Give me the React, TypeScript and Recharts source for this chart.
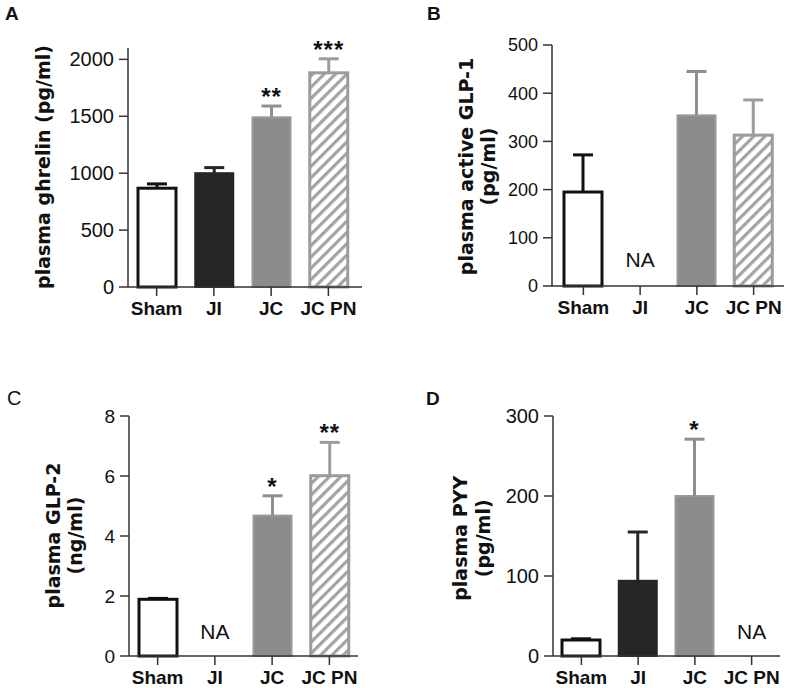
import React from "react";
import { BarChart, Bar, XAxis, YAxis, ReferenceDot } from "recharts";

// groups on the x axis
const groups = ["Sham", "JI", "JC", "JC PN"];

// A: plasma ghrelin (pg/ml)
const ghrelinMean = [868, 1000, 1491, 1882];
const ghrelinSem = [38, 49, 99, 123];
const ghrelinSig = ["", "", "**", "***"];

// B: plasma active GLP-1 (pg/ml), JI not available
const glp1Mean = [195, null, 354, 313];
const glp1Sem = [77, null, 91, 73];
const glp1Sig = ["", "", "", ""];

// C: plasma GLP-2 (ng/ml), JI not available
const glp2Mean = [1.89, null, 4.68, 6.01];
const glp2Sem = [0.03, null, 0.66, 1.11];
const glp2Sig = ["", "", "*", "**"];

// D: plasma PYY (pg/ml), JC PN not available
const pyyMean = [20, 94, 200, null];
const pyySem = [1.5, 61, 71, null];
const pyySig = ["", "", "*", ""];

const ghrelinTicks = [0, 500, 1000, 1500, 2000];
const glp1Ticks = [0, 100, 200, 300, 400, 500];
const glp2Ticks = [0, 2, 4, 6, 8];
const pyyTicks = [0, 100, 200, 300];

const SANS = "'Liberation Sans', Arial, Helvetica, sans-serif";
const LABEL_FONT = "'DejaVu Sans', Verdana, sans-serif";

type Style = { fill: string; stroke: string; sw: number; err: string; hatch?: boolean };
const barStyle: Record<string, Style> = {
  Sham: { fill: "#ffffff", stroke: "#111111", sw: 3, err: "#111111" },
  JI: { fill: "#262626", stroke: "#262626", sw: 2, err: "#262626" },
  JC: { fill: "#8c8c8c", stroke: "#9a9a9a", sw: 2, err: "#8f8f8f" },
  "JC PN": { fill: "#ffffff", stroke: "#9c9c9c", sw: 3, err: "#9c9c9c", hatch: true },
};

type PanelProps = {
  id: string;
  left: number;
  top: number;
  width: number;
  height: number;
  margin: { top: number; right: number; bottom: number; left: number };
  yWidth: number;
  xPadding: { left: number; right: number };
  domain: [number, number];
  ticks: number[];
  tickFont: number;
  mean: (number | null)[];
  sem: (number | null)[];
  sig: string[];
  labelLines: string[];
  labelOffsets: number[];
  labelCenter: number;
  naOffset?: number;
};

function Panel(p: PanelProps) {
  const data = groups.map((g, i) => ({ group: g, mean: p.mean[i], sem: p.sem[i], sig: p.sig[i] }));
  const hatchId = `hatch-${p.id}`;
  const axisX = p.margin.left + p.yWidth;

  const shape = (props: any) => {
    const { x, y, width: w, height: h, payload } = props;
    if (payload == null || payload.mean == null || !h) return <g />;
    const s = barStyle[payload.group];
    const k = h / payload.mean; // px per unit from the bar's own scale
    const yErr = y - (payload.sem ?? 0) * k;
    const cx = x + w / 2;
    return (
      <g>
        <rect x={x} y={y} width={w} height={h} fill={s.hatch ? `url(#${hatchId})` : s.fill} stroke={s.stroke} strokeWidth={s.sw} />
        <line x1={cx} x2={cx} y1={y} y2={yErr} stroke={s.err} strokeWidth={3} />
        <line x1={cx - 10} x2={cx + 10} y1={yErr} y2={yErr} stroke={s.err} strokeWidth={3} />
        {payload.sig ? (
          <text x={cx} y={yErr - 1} textAnchor="middle" fontFamily={SANS} fontWeight={700} fontSize={24} letterSpacing={1} fill="#111">
            {payload.sig}
          </text>
        ) : null}
      </g>
    );
  };

  const yLabel = () => (
    <g>
      {p.labelLines.map((t, i) => {
        const bx = axisX + p.labelOffsets[i];
        return (
          <text key={i} x={bx} y={p.labelCenter} transform={`rotate(-90, ${bx}, ${p.labelCenter})`} textAnchor="middle" fontFamily={LABEL_FONT} fontWeight={700} fontSize={19} fill="#111">
            {t}
          </text>
        );
      })}
    </g>
  );

  return (
    <div style={{ position: "absolute", left: p.left, top: p.top }}>
      <BarChart width={p.width} height={p.height} data={data} margin={p.margin} barSize={38}>
        <defs>
          <pattern id={hatchId} width="8" height="8" patternUnits="userSpaceOnUse" patternTransform="rotate(45)">
            <rect width="8" height="8" fill="#ffffff" />
            <rect x="0" y="0" width="3.2" height="8" fill="#a3a3a3" />
          </pattern>
        </defs>
        <XAxis
          dataKey="group"
          height={30}
          padding={p.xPadding}
          interval={0}
          tickSize={9}
          tickMargin={6}
          axisLine={{ stroke: "#333", strokeWidth: 1.5 }}
          tickLine={{ stroke: "#333", strokeWidth: 1.5 }}
          tick={{ fontSize: 19, fontWeight: 700, fill: "#111", fontFamily: SANS }}
        />
        <YAxis
          type="number"
          width={p.yWidth}
          domain={p.domain}
          ticks={p.ticks}
          interval={0}
          tickSize={9}
          tickMargin={5}
          axisLine={{ stroke: "#333", strokeWidth: 1.5 }}
          tickLine={{ stroke: "#333", strokeWidth: 1.5 }}
          tick={{ fontSize: p.tickFont, fill: "#111", fontFamily: SANS }}
          label={yLabel}
        />
        <Bar dataKey="mean" shape={shape} isAnimationActive={false} />
        {data
          .filter((d) => d.mean == null)
          .map((d) => (
            <ReferenceDot
              key={d.group}
              x={d.group}
              y={0}
              r={0}
              shape={(s: any) => (
                <text x={s.cx} y={s.cy - (p.naOffset ?? 17)} textAnchor="middle" fontFamily={SANS} fontSize={21} fill="#111">
                  NA
                </text>
              )}
            />
          ))}
      </BarChart>
    </div>
  );
}

export default function App() {
  return (
    <div style={{ position: "absolute", left: 0, top: 0, width: 787, height: 688, overflow: "hidden", background: "#fff" }}>
      <Panel
        id="a" left={0} top={0} width={390} height={340}
        margin={{ top: 48, right: 28, bottom: 23, left: 0 }} yWidth={128}
        xPadding={{ left: 0, right: 5 }} domain={[0, 2100]} ticks={ghrelinTicks} tickFont={20}
        mean={ghrelinMean} sem={ghrelinSem} sig={ghrelinSig}
        labelLines={["plasma ghrelin (pg/ml)"]} labelOffsets={[-78]} labelCenter={167}
      />
      <Panel
        id="b" left={390} top={0} width={397} height={340}
        margin={{ top: 45, right: 3, bottom: 24, left: 0 }} yWidth={162}
        xPadding={{ left: 3, right: 2 }} domain={[0, 500]} ticks={glp1Ticks} tickFont={18}
        mean={glp1Mean} sem={glp1Sem} sig={glp1Sig}
        labelLines={["plasma active GLP-1", "(pg/ml)"]} labelOffsets={[-79, -57]} labelCenter={166.5} naOffset={19}
      />
      <Panel
        id="c" left={0} top={340} width={390} height={348}
        margin={{ top: 76, right: 32, bottom: 2, left: 0 }} yWidth={129}
        xPadding={{ left: 0, right: 0 }} domain={[0, 8]} ticks={glp2Ticks} tickFont={19}
        mean={glp2Mean} sem={glp2Sem} sig={glp2Sig}
        labelLines={["plasma GLP-2", "(ng/ml)"]} labelOffsets={[-69, -47]} labelCenter={195.5} naOffset={17}
      />
      <Panel
        id="d" left={390} top={340} width={397} height={348}
        margin={{ top: 76, right: 7, bottom: 2, left: 0 }} yWidth={163}
        xPadding={{ left: 0, right: 0 }} domain={[0, 300]} ticks={pyyTicks} tickFont={20}
        mean={pyyMean} sem={pyySem} sig={pyySig}
        labelLines={["plasma PYY", "(pg/ml)"]} labelOffsets={[-86, -63]} labelCenter={198.3} naOffset={17}
      />
      <svg width={787} height={688} style={{ position: "absolute", left: 0, top: 0, pointerEvents: "none" }}>
        <text x={5} y={20} fontFamily={SANS} fontWeight={700} fontSize={19} fill="#111">A</text>
        <text x={427} y={20} fontFamily={SANS} fontWeight={700} fontSize={19} fill="#111">B</text>
        <text x={7} y={405} fontFamily={SANS} fontSize={20} fill="#111">C</text>
        <text x={426} y={405} fontFamily={SANS} fontWeight={700} fontSize={19} fill="#111">D</text>
      </svg>
    </div>
  );
}
